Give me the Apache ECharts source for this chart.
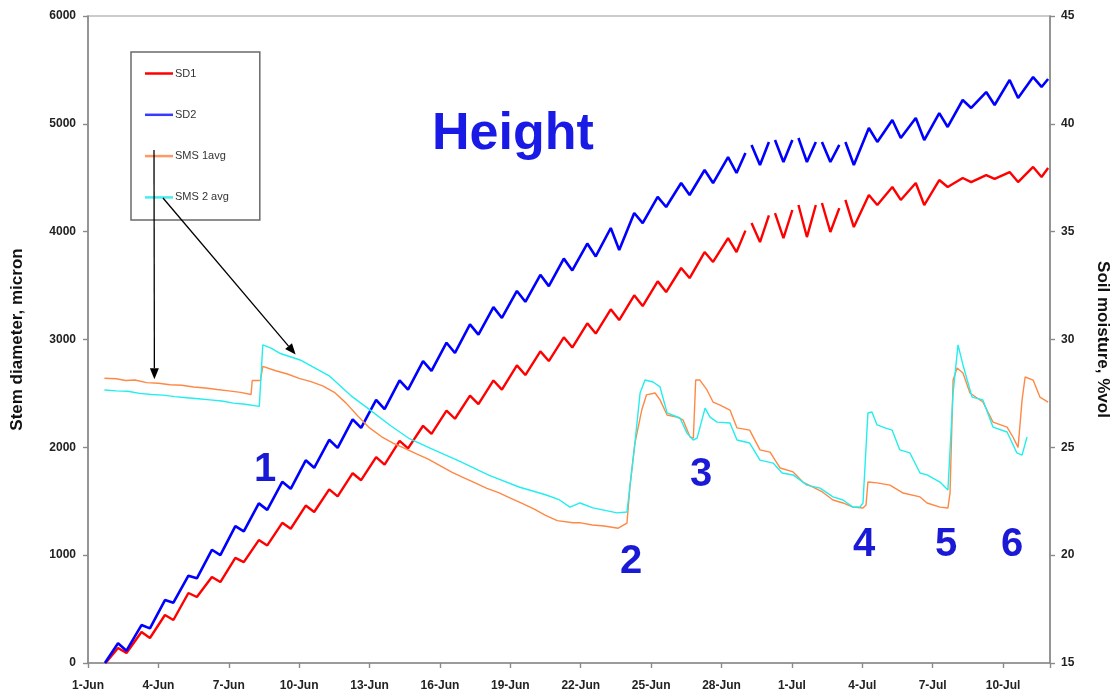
<!DOCTYPE html>
<html>
<head>
<meta charset="utf-8">
<title>Height – stem diameter and soil moisture</title>
<script src="https://cdn.jsdelivr.net/npm/echarts@6/dist/echarts.min.js"></script>
<style>
  html, body { margin: 0; padding: 0; background: #ffffff; }
  #chart { width: 1120px; height: 699px; }
</style>
</head>
<body>
<div id="chart"></div>
<script>
// Date tick labels, one every 3 days starting 1-Jun (day 0)
const xTickLabels = ['1-Jun', '4-Jun', '7-Jun', '10-Jun', '13-Jun', '16-Jun', '19-Jun',
  '22-Jun', '25-Jun', '28-Jun', '1-Jul', '4-Jul', '7-Jul', '10-Jul'];

// Stem diameter (micron): daily maximum (early morning) and minimum (afternoon), index = day
const sd1Start = [0.75, 0];
const sd1Peak = [null, 139, 287, 445, 649, 798, 975, 1140, 1300, 1460, 1610, 1760, 1910, 2060, 2200,
  2340, 2480, 2620, 2760, 2890, 3020, 3150, 3280, 3410, 3540, 3663, 3811, 3941, 4080, 4173, 4247,
  4266, 4294, 4340, 4414, 4451, 4479, 4498, 4525, 4553, 4600];
const sd1Trough = [null, 93, 232, 399, 612, 751, 935, 1090, 1245, 1400, 1545, 1695, 1840, 1990, 2125,
  2265, 2400, 2535, 2670, 2800, 2925, 3055, 3180, 3310, 3440, 3570, 3719, 3811, 3904, 3941, 3950,
  3997, 4043, 4247, 4294, 4247, 4414, 4460, 4490, 4460, 4507];
const sd1NightEnd = { 27: 4010, 28: 4150, 29: 4201, 30: 4247, 31: 4219 };
const sd1Last = [40.92, 4590];

const sd2Start = [0.72, 0];
const sd2Peak = [null, 183, 352, 584, 810, 1050, 1270, 1480, 1680, 1880, 2070, 2260, 2440, 2620, 2800,
  2970, 3140, 3300, 3450, 3600, 3750, 3890, 4034, 4173, 4322, 4451, 4572, 4692, 4804, 4850, 4869,
  4832, 4832, 4961, 5036, 5054, 5100, 5221, 5295, 5407, 5434];
const sd2Trough = [null, 114, 321, 559, 785, 1000, 1220, 1420, 1615, 1810, 1995, 2180, 2355, 2535, 2710,
  2875, 3045, 3200, 3350, 3495, 3640, 3770, 3830, 4080, 4229, 4340, 4451, 4544, 4618, 4646, 4646,
  4646, 4618, 4832, 4869, 4850, 4971, 5147, 5175, 5240, 5342];
const sd2NightEnd = { 27: 4730, 28: 4832, 29: 4850, 30: 4832, 31: 4804 };
const sd2Last = [40.92, 5416];

// Soil moisture (%vol), [day, value]
const sms1 = [
  [0.70, 28.20], [1.20, 28.18], [1.60, 28.10], [2.00, 28.12], [2.50, 28.00], [3.00, 27.97],
  [3.50, 27.90], [4.00, 27.88], [4.50, 27.80], [5.00, 27.75], [5.50, 27.68], [6.00, 27.62],
  [6.50, 27.55], [6.95, 27.45], [7.00, 28.10], [7.35, 28.10], [7.45, 28.75], [8.00, 28.55],
  [8.50, 28.40], [9.00, 28.20], [9.50, 28.05], [10.00, 27.85], [10.50, 27.55], [11.00, 27.05],
  [11.50, 26.45], [12.00, 25.90], [12.50, 25.50], [13.00, 25.20], [13.50, 24.95], [14.00, 24.70],
  [14.50, 24.45], [15.00, 24.15], [15.50, 23.85], [16.00, 23.60], [16.50, 23.35], [17.00, 23.10],
  [17.50, 22.90], [18.00, 22.65], [18.50, 22.40], [19.00, 22.15], [19.50, 21.85], [20.00, 21.60],
  [20.67, 21.50], [21.00, 21.50], [21.50, 21.40], [22.00, 21.35], [22.60, 21.25], [22.97, 21.49],
  [23.10, 23.20], [23.31, 25.20], [23.60, 26.73], [23.80, 27.43], [24.17, 27.52], [24.38, 27.20],
  [24.68, 26.50], [25.10, 26.40], [25.36, 26.27], [25.66, 25.48], [25.80, 25.43], [25.90, 28.12],
  [26.08, 28.12], [26.38, 27.66], [26.64, 27.10], [26.94, 26.96], [27.36, 26.73], [27.66, 25.90],
  [28.20, 25.80], [28.64, 24.88], [29.07, 24.78], [29.50, 24.04], [30.05, 23.86], [30.47, 23.39],
  [30.90, 23.16], [31.30, 22.93], [31.75, 22.56], [32.18, 22.42], [32.60, 22.23], [33.03, 22.19],
  [33.16, 22.33], [33.24, 23.39], [33.63, 23.35], [34.18, 23.25], [34.74, 22.88], [35.46, 22.70],
  [35.76, 22.42], [36.31, 22.23], [36.65, 22.19], [36.74, 22.88], [36.87, 28.12], [37.04, 28.68],
  [37.29, 28.45], [37.59, 27.52], [38.14, 27.10], [38.57, 26.17], [39.17, 25.94], [39.42, 25.48],
  [39.64, 25.00], [39.81, 27.20], [39.94, 28.26], [40.28, 28.12], [40.57, 27.33], [40.92, 27.10]
];
const sms2 = [
  [0.70, 27.66], [1.20, 27.62], [1.70, 27.60], [2.20, 27.50], [2.70, 27.45], [3.20, 27.42],
  [3.70, 27.35], [4.20, 27.30], [4.70, 27.25], [5.20, 27.20], [5.70, 27.15], [6.20, 27.05],
  [6.70, 27.00], [7.30, 26.90], [7.45, 29.75], [7.80, 29.60], [8.20, 29.35], [9.04, 29.05],
  [10.30, 28.30], [11.20, 27.40], [12.00, 26.75], [12.90, 26.00], [13.70, 25.40], [14.60, 24.95],
  [15.85, 24.35], [17.10, 23.70], [18.40, 23.15], [19.50, 22.80], [20.10, 22.56], [20.54, 22.23],
  [20.97, 22.42], [21.52, 22.19], [22.55, 21.96], [22.97, 22.00], [23.31, 25.20], [23.53, 27.52],
  [23.74, 28.12], [24.08, 28.03], [24.38, 27.80], [24.68, 26.60], [25.23, 26.36], [25.53, 25.66],
  [25.79, 25.34], [25.96, 25.43], [26.30, 26.82], [26.51, 26.40], [26.81, 26.17], [27.36, 26.13],
  [27.66, 25.34], [28.20, 25.20], [28.64, 24.41], [29.20, 24.27], [29.58, 23.81], [30.05, 23.72],
  [30.64, 23.25], [31.20, 23.11], [31.75, 22.70], [32.18, 22.56], [32.60, 22.23], [32.90, 22.23],
  [33.03, 22.42], [33.24, 26.59], [33.41, 26.64], [33.63, 26.04], [33.97, 25.90], [34.27, 25.80],
  [34.60, 24.88], [35.03, 24.74], [35.46, 23.81], [35.76, 23.72], [36.31, 23.39], [36.65, 23.02],
  [36.87, 27.52], [37.08, 29.75], [37.29, 28.82], [37.68, 27.33], [38.14, 27.20], [38.57, 25.94],
  [39.17, 25.71], [39.59, 24.74], [39.81, 24.64], [40.02, 25.48]
];

// Annotation numbers placed beside the moisture events
const eventLabels = ['1', '2', '3', '4', '5', '6'];

// Sensor readings: max near d+0.28, min near d+0.64; nights with missing data break the line
function stemSeries(start, peaks, troughs, nightEnd, last) {
  const pts = [start];
  for (let d = 1; d < peaks.length; d++) {
    pts.push([d + 0.28, peaks[d]]);
    pts.push([d + 0.64, troughs[d]]);
    if (nightEnd[d] != null) {
      pts.push([d + 1.02, nightEnd[d]]);
      pts.push([d + 1.1, '-']);
    }
  }
  pts.push(last);
  return pts;
}

const FONT = 'Arial, "Liberation Sans", sans-serif';
const AXIS_GREY = '#8a8a8a';
const chart = echarts.init(document.getElementById('chart'), null, { renderer: 'canvas' });

const axisCommon = {
  axisLine: { show: true, lineStyle: { color: AXIS_GREY, width: 1.6 } },
  axisTick: { show: true, length: 5, lineStyle: { color: AXIS_GREY, width: 1.4 } },
  splitLine: { show: false },
  axisLabel: { fontFamily: FONT, fontSize: 12, fontWeight: 'bold', color: '#222', formatter: v => String(v) },
  nameTextStyle: { fontFamily: FONT, fontSize: 17, fontWeight: 'bold', color: '#111' }
};

chart.setOption({
  animation: false,
  backgroundColor: '#ffffff',
  grid: { left: 88, right: 70, top: 16, bottom: 36, show: true, borderColor: '#9a9a9a', borderWidth: 1.2 },
  xAxis: Object.assign({}, axisCommon, {
    type: 'value', min: 0, max: 41, interval: 3,
    axisLabel: Object.assign({}, axisCommon.axisLabel, {
      margin: 17,
      formatter: v => (v % 3 === 0 && v / 3 < xTickLabels.length) ? xTickLabels[v / 3] : ''
    })
  }),
  yAxis: [
    Object.assign({}, axisCommon, {
      type: 'value', position: 'left', min: 0, max: 6000, interval: 1000,
      name: 'Stem diameter, micron', nameLocation: 'middle', nameGap: 62,
      axisLabel: Object.assign({}, axisCommon.axisLabel, { margin: 12 })
    }),
    Object.assign({}, axisCommon, {
      type: 'value', position: 'right', min: 15, max: 45, interval: 5,
      name: 'Soil moisture, %vol', nameLocation: 'middle', nameGap: 44, nameRotate: -90,
      axisLabel: Object.assign({}, axisCommon.axisLabel, { margin: 11 })
    })
  ],
  legend: {
    orient: 'vertical', left: 131, top: 52,
    data: ['SD1', 'SD2', 'SMS 1avg', 'SMS 2 avg'],
    icon: 'rect',
    itemWidth: 28, itemHeight: 2.5, itemGap: 30.3,
    padding: [16, 31, 17, 14],
    borderColor: '#6a6a6a', borderWidth: 1.5,
    textStyle: { fontFamily: FONT, fontSize: 11, color: '#333', padding: [0, 0, 0, -3] },
    selectedMode: false
  },
  series: [
    {
      name: 'SD1', type: 'line', yAxisIndex: 0, symbol: 'none', connectNulls: false,
      lineStyle: { color: '#ff0000', width: 2.4 }, itemStyle: { color: '#ff0000' },
      data: stemSeries(sd1Start, sd1Peak, sd1Trough, sd1NightEnd, sd1Last)
    },
    {
      name: 'SD2', type: 'line', yAxisIndex: 0, symbol: 'none', connectNulls: false,
      lineStyle: { color: '#0000ff', width: 2.6 }, itemStyle: { color: '#3a3aff' },
      data: stemSeries(sd2Start, sd2Peak, sd2Trough, sd2NightEnd, sd2Last)
    },
    {
      name: 'SMS 1avg', type: 'line', yAxisIndex: 1, symbol: 'none',
      lineStyle: { color: '#ff8844', width: 1.4 }, itemStyle: { color: '#ff9966' },
      data: sms1
    },
    {
      name: 'SMS 2 avg', type: 'line', yAxisIndex: 1, symbol: 'none',
      lineStyle: { color: '#22eeee', width: 1.4 }, itemStyle: { color: '#44eeee' },
      data: sms2
    }
  ]
});

// Text annotations and pointer arrows from the legend to the moisture curves
const numberPos = [[265, 470], [631, 562], [701, 475], [864, 545], [946, 545], [1012, 545]];
function arrow(tail, tip) {
  const ang = Math.atan2(tip[1] - tail[1], tip[0] - tail[0]);
  const len = 11, half = 4.5;
  const bx = tip[0] - len * Math.cos(ang), by = tip[1] - len * Math.sin(ang);
  const px = -Math.sin(ang) * half, py = Math.cos(ang) * half;
  return [
    { type: 'line', shape: { x1: tail[0], y1: tail[1], x2: bx, y2: by },
      style: { stroke: '#000', lineWidth: 1.3 }, z: 20 },
    { type: 'polygon', shape: { points: [tip, [bx + px, by + py], [bx - px, by - py]] },
      style: { fill: '#000' }, z: 20 }
  ];
}
const tip1 = chart.convertToPixel({ xAxisIndex: 0, yAxisIndex: 1 }, [2.83, 27.97]);
const tip2 = chart.convertToPixel({ xAxisIndex: 0, yAxisIndex: 1 }, [8.85, 29.12]);
const graphics = [
  { type: 'text', left: 432, top: 109, z: 30,
    style: { text: 'Height', font: 'bold 52px ' + FONT, fill: '#1a1ae6' } }
];
eventLabels.forEach((t, i) => {
  graphics.push({ type: 'text', x: numberPos[i][0], y: numberPos[i][1], z: 30,
    style: { text: t, font: 'bold 40px ' + FONT, fill: '#1a1ad6', align: 'center', verticalAlign: 'middle' } });
});
arrow([154, 150], [tip1[0], tip1[1] - 4]).forEach(g => graphics.push(g));
arrow([163, 198], [tip2[0], tip2[1] - 4]).forEach(g => graphics.push(g));
chart.setOption({ graphic: graphics });
</script>
</body>
</html>
